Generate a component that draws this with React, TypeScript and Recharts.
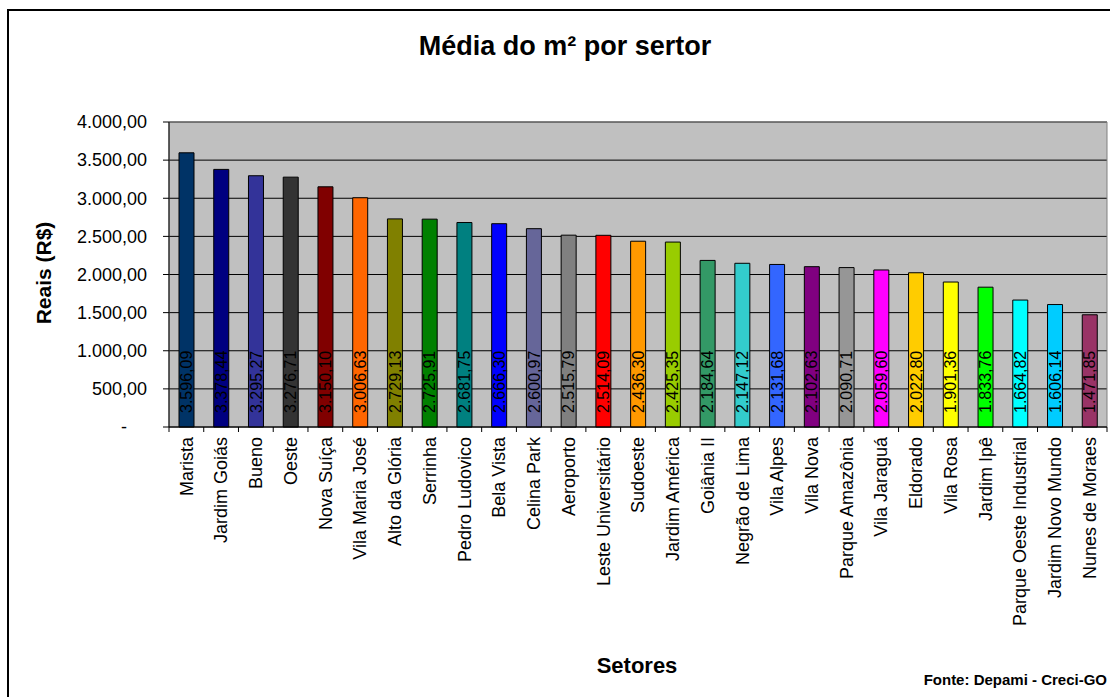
import { BarChart, Bar, XAxis, YAxis, CartesianGrid, ReferenceArea, Cell, LabelList } from 'recharts';

const setores = [
  'Marista', 'Jardim Goiás', 'Bueno', 'Oeste', 'Nova Suíça', 'Vila Maria José', 'Alto da Glória',
  'Serrinha', 'Pedro Ludovico', 'Bela Vista', 'Celina Park', 'Aeroporto', 'Leste Universitário',
  'Sudoeste', 'Jardim América', 'Goiânia II', 'Negrão de Lima', 'Vila Alpes', 'Vila Nova',
  'Parque Amazônia', 'Vila Jaraguá', 'Eldorado', 'Vila Rosa', 'Jardim Ipê',
  'Parque Oeste Industrial', 'Jardim Novo Mundo', 'Nunes de Moraes',
];

const valores = [
  3596.09, 3378.44, 3295.27, 3276.71, 3150.1, 3006.63, 2729.13,
  2725.91, 2681.75, 2666.3, 2600.97, 2515.79, 2514.09,
  2436.3, 2425.35, 2184.64, 2147.12, 2131.68, 2102.63,
  2090.71, 2059.6, 2022.8, 1901.36, 1833.76,
  1664.82, 1606.14, 1471.85,
];

const cores = [
  '#003366', '#000080', '#333399', '#333333', '#800000', '#FF6600', '#808000',
  '#008000', '#008080', '#0000FF', '#666699', '#808080', '#FF0000',
  '#FF9900', '#99CC00', '#339966', '#33CCCC', '#3366FF', '#800080',
  '#969696', '#FF00FF', '#FFCC00', '#FFFF00', '#00FF00',
  '#00FFFF', '#00CCFF', '#993366',
];

const yTicks = [0, 500, 1000, 1500, 2000, 2500, 3000, 3500, 4000];

const data = setores.map((nome, i) => ({ nome, valor: valores[i] }));

const FONT = '"Liberation Sans", Arial, sans-serif';

// formato brasileiro: 3.596,09
const fmt = (v: number) => {
  const [int, dec] = v.toFixed(2).split('.');
  return int.replace(/\B(?=(\d{3})+(?!\d))/g, '.') + ',' + dec;
};

const YTick = (props: any) => {
  const { x, y, payload } = props;
  const v = payload.value;
  return (
    <text x={v === 0 ? x - 20 : x} y={y} dy="0.35em" textAnchor="end" fontSize={18} fontFamily={FONT} fill="#000">
      {v === 0 ? '-' : fmt(v)}
    </text>
  );
};

const XTick = (props: any) => {
  const { x, y, payload, index } = props;
  const off = payload.offset ?? 0;
  const last = index === setores.length - 1;
  return (
    <g>
      <line x1={x - off} x2={x - off} y1={y} y2={y + 5} stroke="#000" />
      {last && <line x1={x + off} x2={x + off} y1={y} y2={y + 5} stroke="#000" />}
      <text
        x={x}
        y={y + 10}
        dy="0.35em"
        textAnchor="end"
        transform={`rotate(-90 ${x} ${y + 10})`}
        fontSize={18}
        fontFamily={FONT}
        fill="#000"
      >
        {payload.value}
      </text>
    </g>
  );
};

const BarLabel = (props: any) => {
  const { x, y, width, height, value } = props;
  const cx = x + width / 2;
  const by = y + height - 14;
  return (
    <text
      x={cx}
      y={by}
      dy="0.35em"
      textAnchor="start"
      transform={`rotate(-90 ${cx} ${by})`}
      fontSize={16}
      fontFamily={FONT}
      fill="#000"
    >
      {fmt(value)}
    </text>
  );
};

export default function App() {
  return (
    <div style={{ position: 'absolute', left: 0, top: 0, width: 1110, height: 697, overflow: 'hidden', background: '#fff' }}>
      <div style={{ position: 'absolute', left: 7, top: 9, width: 1200, height: 800, border: '2px solid #000' }} />
      <div style={{ position: 'absolute', left: 0, top: 0 }}>
        <BarChart width={1110} height={697} data={data} margin={{ top: 122, right: 3, left: 0, bottom: 0 }}>
          <CartesianGrid vertical={false} stroke="#000" fill="#C0C0C0" fillOpacity={1} />
          <ReferenceArea y1={0} y2={4000} stroke="#808080" strokeWidth={1} fill="none" />
          <XAxis
            dataKey="nome"
            interval={0}
            height={270}
            tickSize={0}
            tickMargin={0}
            tickLine={false}
            tick={<XTick />}
            stroke="#000"
          />
          <YAxis
            width={169}
            domain={[0, 4000]}
            ticks={yTicks}
            tickSize={6}
            tickMargin={16}
            tick={<YTick />}
            stroke="#000"
          />
          <Bar dataKey="valor" barSize={15} stroke="#000" strokeWidth={1} isAnimationActive={false}>
            {data.map((d, i) => (
              <Cell key={d.nome} fill={cores[i]} />
            ))}
            <LabelList dataKey="valor" content={<BarLabel />} />
          </Bar>
        </BarChart>
      </div>
      <svg width={1110} height={697} style={{ position: 'absolute', left: 0, top: 0, pointerEvents: 'none' }}>
        <text x={565} y={55} textAnchor="middle" fontSize={27} fontWeight="bold" fontFamily={FONT}>
          Média do m² por sertor
        </text>
        <text x={44} y={273} textAnchor="middle" dy="0.35em" transform="rotate(-90 44 273)" fontSize={21} fontWeight="bold" fontFamily={FONT}>
          Reais (R$)
        </text>
        <text x={637} y={673} textAnchor="middle" fontSize={22} fontWeight="bold" fontFamily={FONT}>
          Setores
        </text>
        <text x={1107} y={685} textAnchor="end" fontSize={15} fontWeight="bold" fontFamily={FONT}>
          Fonte: Depami - Creci-GO
        </text>
      </svg>
    </div>
  );
}
